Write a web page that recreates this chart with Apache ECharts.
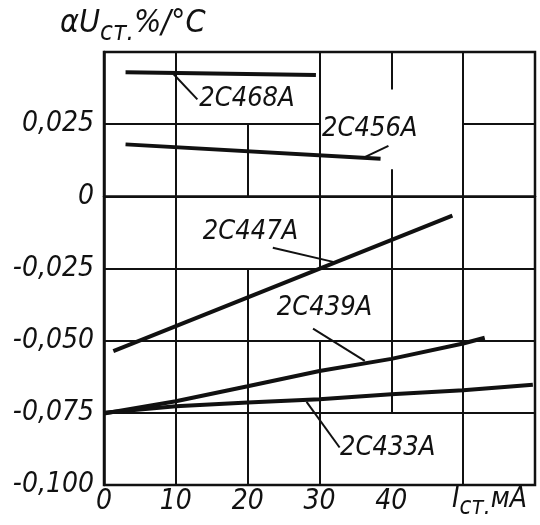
<!DOCTYPE html>
<html>
<head>
<meta charset="utf-8">
<script src="https://cdn.jsdelivr.net/npm/echarts@6/dist/echarts.min.js"></script>
<style>
html,body{margin:0;padding:0;background:#fff;}
#chart{width:540px;height:525px;}
</style>
</head>
<body>
<div id="chart"></div>
<script>
// ---- data ----
const seriesNames = ['2С468А', '2С456А', '2С447А', '2С439А', '2С433А'];
const s2C468A = [[3, 0.043], [29.5, 0.042]];
const s2C456A = [[3, 0.018], [38.5, 0.013]];
const s2C447A = [[1.3, -0.0536], [48.5, -0.0067]];
const s2C439A = [[0, -0.0752], [10, -0.071], [20, -0.0658], [30, -0.0605], [40, -0.0563], [50, -0.051], [53, -0.049]];
const s2C433A = [[0, -0.075], [10, -0.0727], [20, -0.0714], [30, -0.0703], [40, -0.0686], [50, -0.0672], [59.7, -0.0653]];
const seriesValues = [s2C468A, s2C456A, s2C447A, s2C439A, s2C433A];
// label anchor points (data units) and leader lines
const labelPoints = [[19.9, 0.0336], [37.0, 0.0234], [20.4, -0.0122], [30.7, -0.0388], [39.5, -0.0871]];
const leaderLines = [
  [[9.7, 0.0423], [13.0, 0.0336]],
  [[39.6, 0.0175], [36.3, 0.0136]],
  [[23.5, -0.0178], [31.9, -0.0227]],
  [[29.1, -0.0458], [36.3, -0.057]],
  [[28.2, -0.0712], [32.8, -0.087]]
];
// grid segments as drawn in the original (some are interrupted)
const gridSegments = [
  [[10, -0.1], [10, 0.05]],
  [[20, 0.025], [20, 0]],
  [[20, -0.025], [20, -0.1]],
  [[30, -0.1], [30, -0.05]],
  [[30, -0.025], [30, 0.05]],
  [[40, 0.05], [40, 0.037]],
  [[40, 0.0094], [40, -0.075]],
  [[50, -0.1], [50, 0.05]],
  [[0, 0.025], [30, 0.025]],
  [[50, 0.025], [60, 0.025]],
  [[0, 0], [60, 0]],
  [[0, -0.025], [60, -0.025]],
  [[0, -0.05], [60, -0.05]],
  [[0, -0.075], [60, -0.075]]
];
const xTicks = [0, 10, 20, 30, 40];

const FONT = "'DejaVu Sans Condensed', 'Liberation Sans Narrow', 'DejaVu Sans', sans-serif";
const INK = '#111';

const chart = echarts.init(document.getElementById('chart'), null, {renderer: 'canvas'});

const series = [];
series.push({
  type: 'lines', coordinateSystem: 'cartesian2d', silent: true, z: 1,
  lineStyle: {color: INK, width: 2, opacity: 1},
  data: gridSegments.map(c => ({coords: c}))
});
seriesValues.forEach((d, i) => {
  series.push({
    name: seriesNames[i], type: 'line', data: d, showSymbol: false, symbol: 'none',
    lineStyle: {color: INK, width: 4}, z: 3
  });
});
series.push({
  type: 'lines', coordinateSystem: 'cartesian2d', silent: true, z: 3,
  lineStyle: {color: INK, width: 2, opacity: 1},
  data: leaderLines.map(c => ({coords: c}))
});

chart.setOption({
  animation: false,
  backgroundColor: '#fff',
  grid: {left: 104, right: 5, top: 52, bottom: 40, show: true, borderColor: INK, borderWidth: 2.5, backgroundColor: 'transparent'},
  xAxis: {
    type: 'value', min: 0, max: 60, interval: 10,
    axisLine: {show: true, lineStyle: {color: INK, width: 2.5}},
    axisTick: {show: false}, splitLine: {show: false},
    axisLabel: {
      color: INK, fontFamily: FONT, fontStyle: 'italic', fontSize: 28, margin: 3,
      formatter: v => (xTicks.indexOf(v) >= 0 ? String(v) : '')
    }
  },
  yAxis: {
    type: 'value', min: -0.1, max: 0.05, interval: 0.025,
    axisLine: {show: true, lineStyle: {color: INK, width: 2.5}},
    axisTick: {show: false}, splitLine: {show: false},
    axisLabel: {
      color: INK, fontFamily: FONT, fontStyle: 'italic', fontSize: 28, margin: 10,
      formatter: v => {
        if (Math.abs(v - 0.05) < 1e-9) return '';
        if (Math.abs(v) < 1e-9) return '0';
        return v.toFixed(3).replace('.', ',');
      }
    }
  },
  series: series
});

const labelGraphics = labelPoints.map((p, i) => {
  const px = chart.convertToPixel({gridIndex: 0}, p);
  return {
    type: 'text', x: px[0], y: px[1], z: 10,
    style: {
      text: seriesNames[i], fill: INK, fontFamily: FONT, fontStyle: 'italic', fontSize: 27,
      align: 'center', verticalAlign: 'middle'
    }
  };
});

chart.setOption({
  graphic: labelGraphics.concat([
    {
      type: 'text', left: 60, top: 8,
      style: {
        text: '{a|αU}{b|ст.}{a|%/°C}',
        rich: {
          a: {fontFamily: FONT, fontStyle: 'italic', fontSize: 32, fill: INK, verticalAlign: 'bottom'},
          b: {fontFamily: FONT, fontStyle: 'italic', fontSize: 26, fill: INK, verticalAlign: 'bottom', padding: [0, 0, -6, 0]}
        }
      }
    },
    {
      type: 'text', left: 452, top: 486,
      style: {
        text: '{a|I}{b|ст.}{a|мА}',
        rich: {
          a: {fontFamily: FONT, fontStyle: 'italic', fontSize: 28, fill: INK, verticalAlign: 'bottom'},
          b: {fontFamily: FONT, fontStyle: 'italic', fontSize: 24, fill: INK, verticalAlign: 'bottom', padding: [0, 0, -6, 0]}
        }
      }
    }
  ])
});
</script>
</body>
</html>
